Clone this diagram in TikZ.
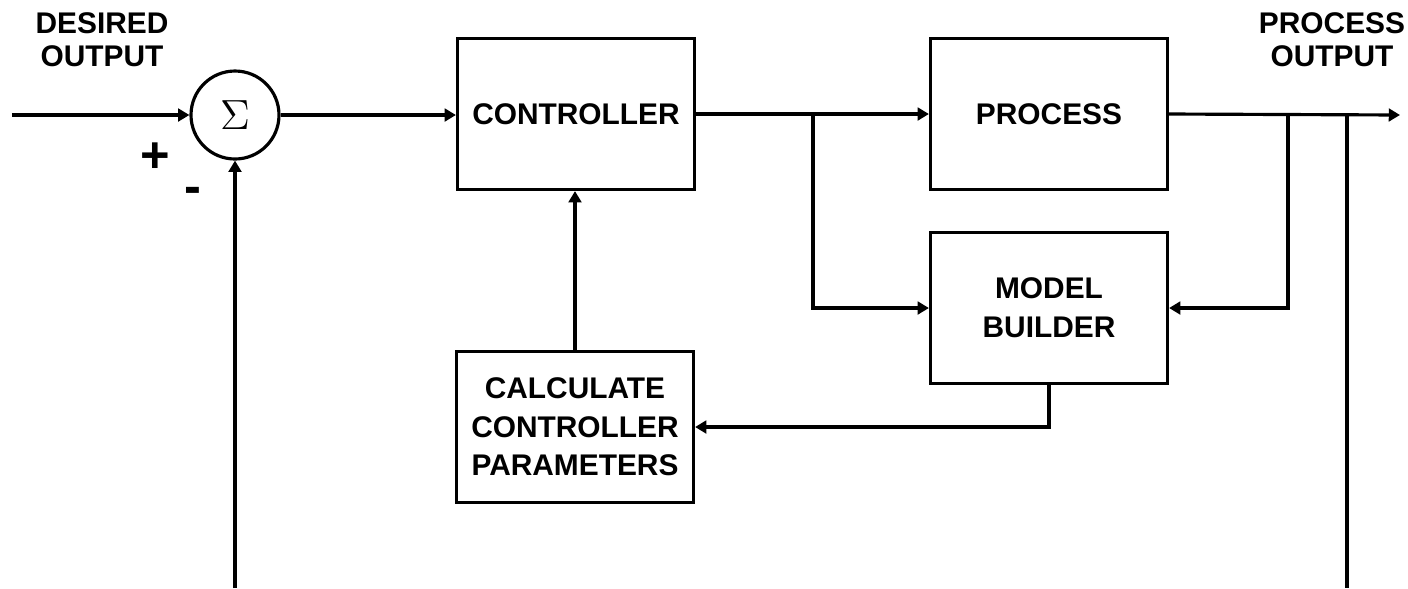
\documentclass[tikz,border=0pt]{standalone}
\usepackage{fontspec}
\setsansfont{Liberation Sans}
\usetikzlibrary{arrows.meta}

\begin{document}
\begin{tikzpicture}[
    font=\sffamily\bfseries\fontsize{8.5}{11}\selectfont,
    block/.style={draw, line width=0.9pt, minimum width=2.37cm, minimum height=1.51cm, align=center},
    sumnode/.style={draw, circle, line width=0.9pt, minimum size=0.88cm, inner sep=0pt},
    sig/.style={->, >={Triangle[length=3.2pt,width=3.6pt]}, line width=0.9pt},
    wire/.style={line width=0.9pt},
    lbl/.style={align=center, font=\sffamily\bfseries\fontsize{8.5}{9.3}\selectfont}
]
\useasboundingbox (0,-5.88) rectangle (14.08,0);

% Blocks
\node[sumnode] (sum) at (2.35,-1.15) {\large$\Sigma$};
\node[block] (ctrl)  at (5.76,-1.14) {CONTROLLER};
\node[block] (proc)  at (10.49,-1.14) {PROCESS};
\node[block] (model) at (10.49,-3.08) {MODEL\\BUILDER};
\node[block] (calc)  at (5.75,-4.27) {CALCULATE\\CONTROLLER\\PARAMETERS};

% Labels
\node[lbl] (desired) at (1.02,-0.40) {DESIRED\\OUTPUT};
\node[lbl] (procout) at (13.32,-0.40) {PROCESS\\OUTPUT};
\node[font=\sffamily\bfseries\Large] (plus) at (1.55,-1.58) {+};
\node[font=\sffamily\bfseries\Large] (minus) at (1.93,-1.95) {-};

% Free ends and branch points
\coordinate (in)  at (0.12,-1.15);
\coordinate (out) at (14.0,-1.15);
\coordinate (b1)  at (8.13,-1.15);
\coordinate (b2)  at (12.88,-1.15);
\coordinate (b3)  at (13.47,-1.15);
\coordinate (fbl) at (2.35,-5.88);
\coordinate (fbr) at (13.47,-5.88);

% Forward path
\draw[sig] (in) -- (sum.west);
\draw[sig] (sum.east) -- (sum.east -| ctrl.west);
\draw[sig] (ctrl.east) -- (ctrl.east -| proc.west);
\draw[sig] (proc.east) -- (out);
\draw[sig] (b1) |- (model.west);
\draw[sig] (b2) |- (model.east);

% Adaptation loop
\draw[sig] (model.south) |- (calc.east);
\draw[sig] (calc.north) -- (calc.north |- ctrl.south);

% Feedback
\draw[sig] (fbl) -- (sum.south);
\draw[wire] (b3) -- (fbr);

\end{tikzpicture}
\end{document}
